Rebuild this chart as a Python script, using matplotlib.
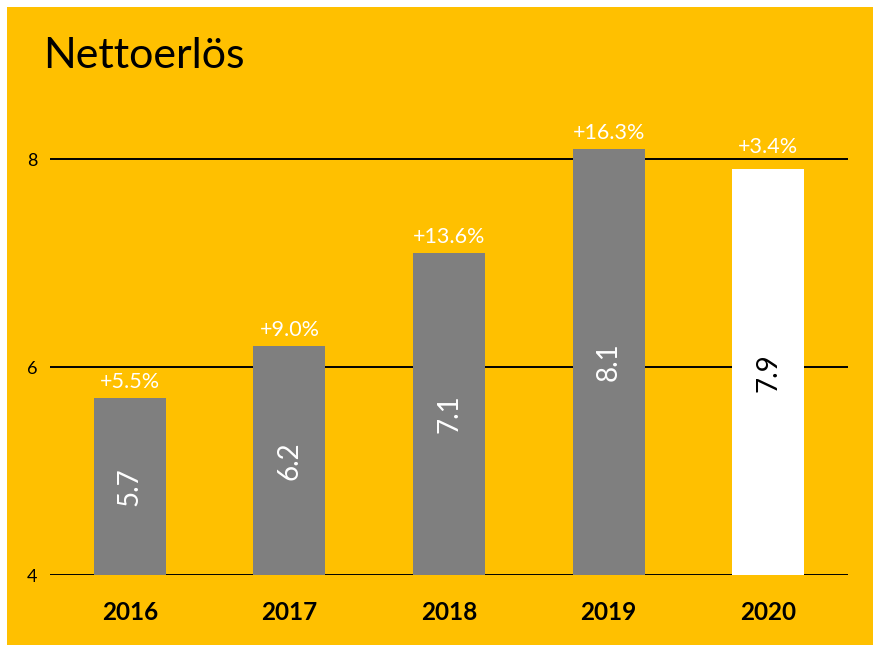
import matplotlib.pyplot as plt
from matplotlib.patches import Rectangle

years = ['2016', '2017', '2018', '2019', '2020']
revenue = [5.7, 6.2, 7.1, 8.1, 7.9]
growth = ['+5.5%', '+9.0%', '+13.6%', '+16.3%', '+3.4%']
bar_colors = ['#7f7f7f', '#7f7f7f', '#7f7f7f', '#7f7f7f', '#ffffff']
yticks = [4, 6, 8]

plt.rcParams['font.family'] = ['Lato', 'DejaVu Sans']

W, H = 873, 645
fig = plt.figure(figsize=(W / 100, H / 100), dpi=100, facecolor='white')
# yellow slide background (thin white margin at top/left)
fig.patches.append(Rectangle((7 / W, 0), 1 - 7 / W, 1 - 7 / H, transform=fig.transFigure,
                             facecolor='#ffc000', edgecolor='none', zorder=-10))

ymin, ymax = 4, 8.5
px_per_unit = 104
bottom_px = 575
top_px = bottom_px - (ymax - ymin) * px_per_unit
ax = fig.add_axes([50 / W, (H - bottom_px) / H, (848 - 50) / W, (bottom_px - top_px) / H])
ax.set_facecolor('none')

x = range(len(years))
ax.bar(x, [v - ymin for v in revenue], bottom=ymin, width=0.45, color=bar_colors, zorder=3)

for t in yticks:
    ax.axhline(t, color='black', lw=1.4, zorder=2)

for i, (v, g) in enumerate(zip(revenue, growth)):
    # label baseline ~10px above bar; if a gridline sits in the way, go above it
    base = v + 10 / px_per_unit
    for t in yticks:
        if v < t < v + 25 / px_per_unit:
            base = t + 6 / px_per_unit
    ax.text(i, base, g, ha='center', va='baseline', color='white', fontsize=15.5, zorder=4)
    txt_col = 'black' if bar_colors[i] == '#ffffff' else 'white'
    ax.text(i, (ymin + v) / 2, f'{v:.1f}', rotation=90, ha='center', va='center',
            color=txt_col, fontsize=20, zorder=4)

ax.set_xlim(-0.5, len(years) - 0.5)
ax.set_ylim(ymin, ymax)
ax.set_xticks(list(x))
ax.set_xticklabels(years, fontsize=17.5, fontweight='bold')
ax.set_yticks(yticks)
ax.set_yticklabels([str(t) for t in yticks], fontsize=13)
ax.tick_params(axis='x', length=0, pad=19)
ax.tick_params(axis='y', length=0, pad=9)
for s in ax.spines.values():
    s.set_visible(False)

fig.text(43 / W, 1 - 68 / H, 'Nettoerlös', fontsize=31, va='baseline', ha='left')

fig.savefig('out.png', dpi=100, facecolor=fig.get_facecolor())
